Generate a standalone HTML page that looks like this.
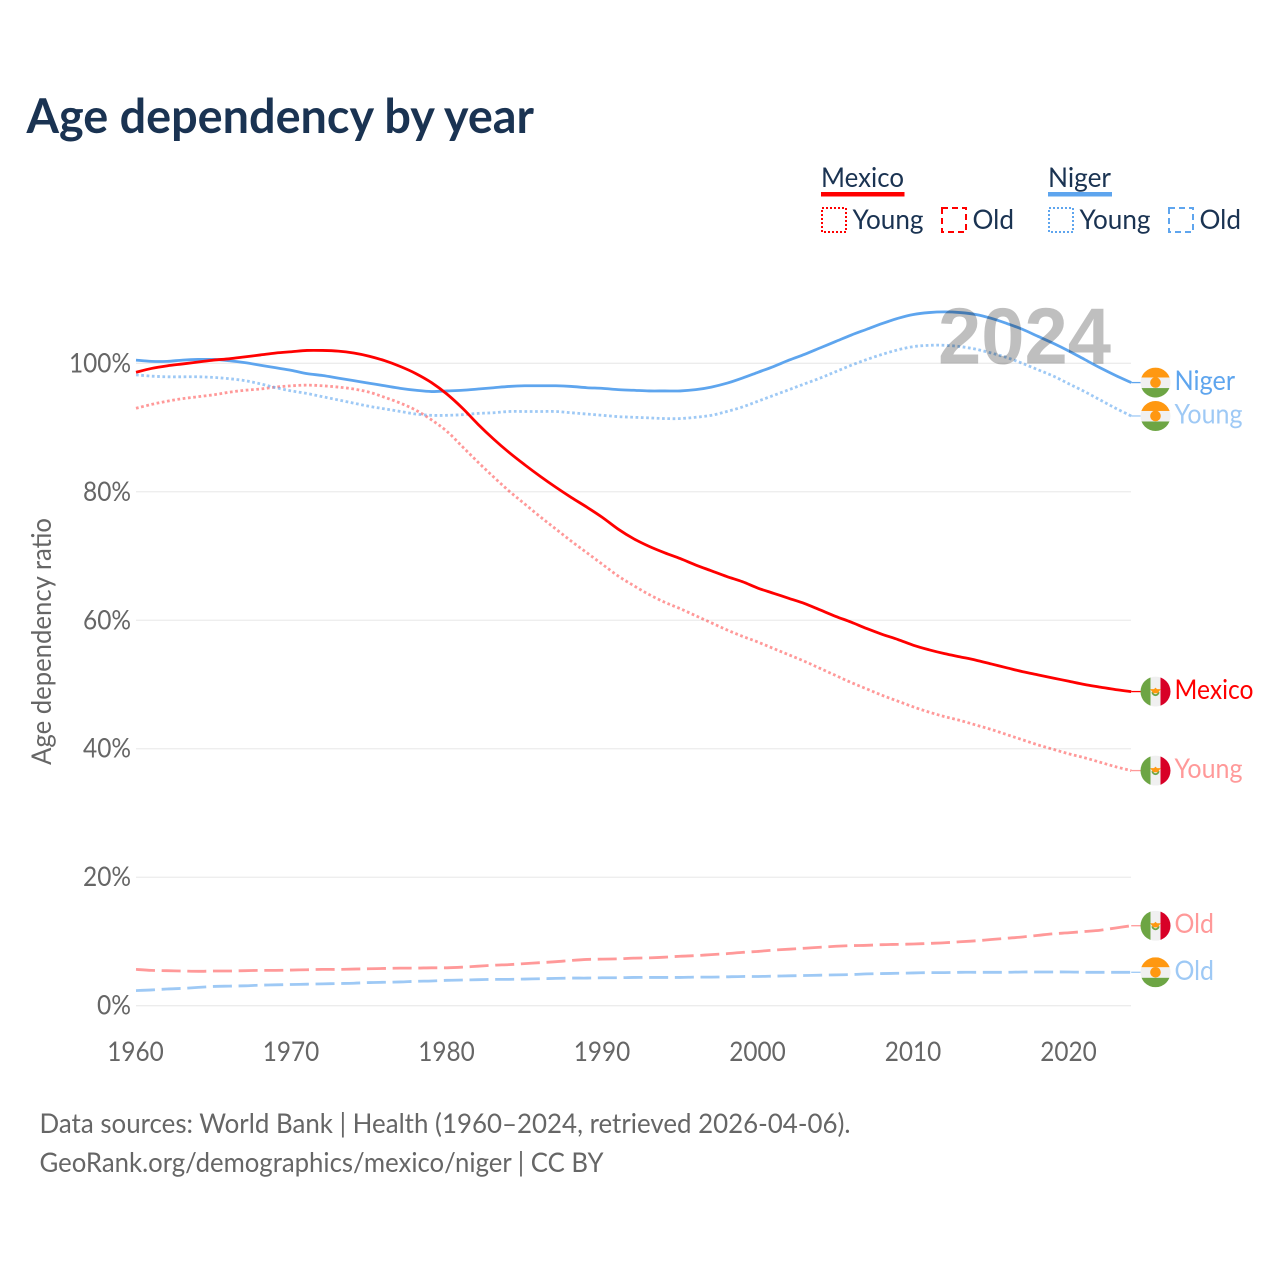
<!DOCTYPE html>
<html lang="en">
<head>
<meta charset="utf-8">
<title>Age dependency by year</title>
<style>
html,body{margin:0;padding:0;background:#fff}
svg{display:block}
text{font-family:"Lato","Carlito","Liberation Sans",sans-serif}
</style>
</head>
<body>
<svg id="chart" xmlns="http://www.w3.org/2000/svg" width="1280" height="1280" viewBox="0 0 1280 1280">
  <defs>
    <clipPath id="flag-clip"><circle cx="0" cy="0" r="15"></circle></clipPath>
  </defs>
  <rect x="0" y="0" width="1280" height="1280" fill="#fff"></rect>
  <text x="26.500" y="133" font-size="48" font-weight="700" fill="#1a3352" textLength="507.500" lengthAdjust="spacingAndGlyphs">Age dependency by year</text>

  <g font-size="27" fill="#1a3352">
    <text x="821" y="187" textLength="83" lengthAdjust="spacingAndGlyphs">Mexico</text>
    <rect x="821" y="192" width="83.500" height="4.500" fill="#ff0000"></rect>
    <rect x="822" y="208" width="24" height="24" fill="none" stroke="#ff0000" stroke-width="2" stroke-dasharray="2 2"></rect>
    <text x="852.500" y="229" textLength="71" lengthAdjust="spacingAndGlyphs">Young</text>
    <rect x="942" y="208" width="24" height="24" fill="none" stroke="#ff0000" stroke-width="2" stroke-dasharray="6 4"></rect>
    <text x="972.500" y="229" textLength="41.500" lengthAdjust="spacingAndGlyphs">Old</text>
    <text x="1048" y="187" textLength="63" lengthAdjust="spacingAndGlyphs">Niger</text>
    <rect x="1048" y="192" width="64" height="4.500" fill="#5ea5ee"></rect>
    <rect x="1049" y="208" width="24" height="24" fill="none" stroke="#5ea5ee" stroke-width="2" stroke-dasharray="2 2"></rect>
    <text x="1079.500" y="229" textLength="71" lengthAdjust="spacingAndGlyphs">Young</text>
    <rect x="1169" y="208" width="24" height="24" fill="none" stroke="#5ea5ee" stroke-width="2" stroke-dasharray="6 4"></rect>
    <text x="1199.500" y="229" textLength="41.500" lengthAdjust="spacingAndGlyphs">Old</text>
  </g>

  <g id="grid"></g>
  <g id="y-axis"></g>
  <g id="x-axis"></g>
  <text transform="translate(51,641.500) rotate(-90)" text-anchor="middle" font-size="27" fill="#666" textLength="247" lengthAdjust="spacingAndGlyphs">Age dependency ratio</text>
  <g id="series"></g>
  <text x="938" y="363.500" font-size="80" font-weight="700" fill="#000" fill-opacity="0.25" textLength="173" lengthAdjust="spacingAndGlyphs" style="font-family:'Liberation Sans',sans-serif">2024</text>
  <g id="end-labels"></g>

  <text x="39.500" y="1133" font-size="27" fill="#666" textLength="811" lengthAdjust="spacingAndGlyphs">Data sources: World Bank | Health (1960–2024, retrieved 2026-04-06).</text>
  <text x="39.500" y="1172" font-size="27" fill="#666" textLength="564" lengthAdjust="spacingAndGlyphs">GeoRank.org/demographics/mexico/niger | CC BY</text>
</svg>

<script>
const years = [1960,1961,1962,1963,1964,1965,1966,1967,1968,1969,1970,1971,1972,1973,1974,1975,1976,1977,1978,1979,1980,1981,1982,1983,1984,1985,1986,1987,1988,1989,1990,1991,1992,1993,1994,1995,1996,1997,1998,1999,2000,2001,2002,2003,2004,2005,2006,2007,2008,2009,2010,2011,2012,2013,2014,2015,2016,2017,2018,2019,2020,2021,2022,2023,2024];
const yTicks = [0,20,40,60,80,100];
const xTicks = [1960,1970,1980,1990,2000,2010,2020];

const mexicoTotal = [98.6,99.2,99.6,99.9,100.2,100.5,100.7,101.0,101.3,101.6,101.8,102.0,102.0,101.9,101.6,101.1,100.4,99.5,98.4,97.0,95.2,93.0,90.5,88.2,86.1,84.2,82.4,80.7,79.1,77.6,76.0,74.2,72.7,71.5,70.5,69.6,68.6,67.7,66.8,66.0,65.0,64.2,63.4,62.6,61.6,60.6,59.7,58.7,57.8,57.0,56.1,55.4,54.8,54.3,53.8,53.2,52.6,52.0,51.5,51.0,50.5,50.0,49.6,49.2,48.9];
const mexicoYoung = [93.0,93.6,94.1,94.5,94.8,95.1,95.5,95.8,96.0,96.3,96.5,96.6,96.5,96.3,96.0,95.5,94.7,93.8,92.7,91.2,89.4,87.0,84.6,82.3,80.1,78.1,76.1,74.2,72.3,70.5,68.7,66.9,65.4,64.0,62.8,61.8,60.7,59.6,58.5,57.5,56.6,55.6,54.6,53.6,52.5,51.4,50.3,49.3,48.3,47.4,46.5,45.7,45.0,44.4,43.7,43.0,42.2,41.4,40.6,39.9,39.2,38.6,37.9,37.2,36.6];
const mexicoOld = [5.65,5.5,5.45,5.4,5.35,5.4,5.4,5.45,5.5,5.5,5.55,5.6,5.65,5.65,5.7,5.75,5.8,5.85,5.85,5.9,5.9,6.0,6.15,6.3,6.4,6.55,6.7,6.85,7.05,7.2,7.25,7.3,7.4,7.45,7.55,7.7,7.8,7.95,8.1,8.3,8.45,8.65,8.8,8.95,9.1,9.25,9.35,9.4,9.5,9.55,9.6,9.7,9.8,9.95,10.1,10.3,10.5,10.7,10.95,11.2,11.35,11.55,11.75,12.1,12.45];
const nigerTotal = [100.5,100.3,100.3,100.5,100.6,100.6,100.4,100.1,99.7,99.3,98.9,98.4,98.1,97.7,97.3,96.9,96.5,96.1,95.8,95.6,95.7,95.8,96.0,96.2,96.4,96.5,96.5,96.5,96.4,96.2,96.1,95.9,95.8,95.7,95.7,95.7,95.9,96.3,96.9,97.7,98.6,99.5,100.5,101.4,102.4,103.4,104.4,105.3,106.2,107.0,107.6,107.9,108.0,107.9,107.6,107.0,106.2,105.3,104.2,103.1,101.9,100.6,99.3,98.1,97.0];
const nigerYoung = [98.2,98.0,97.9,97.9,97.9,97.8,97.6,97.3,96.8,96.2,95.7,95.3,94.8,94.3,93.8,93.3,92.9,92.5,92.1,91.9,91.9,92.0,92.2,92.3,92.5,92.5,92.5,92.5,92.3,92.1,91.9,91.7,91.6,91.5,91.4,91.4,91.6,91.9,92.5,93.2,94.1,95.0,95.9,96.8,97.7,98.7,99.7,100.6,101.4,102.1,102.6,102.8,102.8,102.6,102.2,101.6,100.9,100.0,99.0,98.0,96.8,95.6,94.3,93.0,91.8];
const nigerOld = [2.35,2.45,2.6,2.7,2.85,3.0,3.05,3.1,3.2,3.25,3.3,3.35,3.4,3.45,3.5,3.6,3.65,3.7,3.8,3.85,3.95,4.0,4.05,4.1,4.1,4.15,4.2,4.25,4.3,4.3,4.35,4.35,4.4,4.4,4.4,4.4,4.45,4.45,4.5,4.55,4.55,4.6,4.65,4.7,4.75,4.8,4.85,4.95,5.0,5.05,5.1,5.15,5.15,5.2,5.2,5.2,5.2,5.25,5.25,5.25,5.25,5.2,5.2,5.2,5.2];

const NS = 'http://www.w3.org/2000/svg';
const RED = '#ff0000';
const BLUE = '#5ea5ee';
const DOT = '2.7 2.6';
const DASH = '19 6.67';

function xScale(year){ return 136 + (year - 1960) * 15.55; }
function yScale(v){ return 1005.7 - 6.424 * v; }

function make(tag, attrs, parent){
  const el = document.createElementNS(NS, tag);
  for (const k in attrs) el.setAttribute(k, attrs[k]);
  if (parent) parent.appendChild(el);
  return el;
}

function pathFor(values){
  const p = values.map((v, i) => [xScale(years[i]), yScale(v)]);
  let d = 'M' + p[0][0].toFixed(2) + ' ' + p[0][1].toFixed(2);
  for (let i = 0; i < p.length - 1; i++){
    const a = p[Math.max(i - 1, 0)], b = p[i], c = p[i + 1], e = p[Math.min(i + 2, p.length - 1)];
    const c1x = b[0] + (c[0] - a[0]) / 6, c1y = b[1] + (c[1] - a[1]) / 6;
    const c2x = c[0] - (e[0] - b[0]) / 6, c2y = c[1] - (e[1] - b[1]) / 6;
    d += 'C' + c1x.toFixed(2) + ' ' + c1y.toFixed(2) + ' ' + c2x.toFixed(2) + ' ' + c2y.toFixed(2) + ' ' + c[0].toFixed(2) + ' ' + c[1].toFixed(2);
  }
  return d;
}

const grid = document.getElementById('grid');
const yAxis = document.getElementById('y-axis');
yTicks.forEach(t => {
  const line = make('line', {x1:136, x2:1131, y1:yScale(t), y2:yScale(t), stroke:'#ececec', 'stroke-width':1.3}, grid);
  
  
  const label = make('text', {x:131, y:yScale(t) + 9, 'text-anchor':'end', 'font-size':27, fill:'#666', textLength:14 * String(t).length + 20, lengthAdjust:'spacingAndGlyphs'}, yAxis);
  
  
  label.textContent = t + '%';
});

const xAxis = document.getElementById('x-axis');
xTicks.forEach(t => {
  const label = make('text', {x:xScale(t) - 0.5, y:1061, 'text-anchor':'middle', 'font-size':27, fill:'#666', textLength:56.5, lengthAdjust:'spacingAndGlyphs'}, xAxis);
  
  
  label.textContent = t;
});

const seriesGroup = document.getElementById('series');
function drawSeries(name, values, color, opacity, dash, width){
  const path = make('path', {d:pathFor(values), fill:'none', stroke:color, 'stroke-opacity':opacity, 'stroke-width':width, 'stroke-linejoin':'round'}, seriesGroup);
  if (dash) path.setAttribute('stroke-dasharray', dash);
  
  
}
drawSeries('line-mexico-old', mexicoOld, RED, 0.4, DASH, 2.8);
drawSeries('line-niger-old', nigerOld, BLUE, 0.6, DASH, 2.8);
drawSeries('line-mexico-young', mexicoYoung, RED, 0.4, DOT, 2.8);
drawSeries('line-niger-young', nigerYoung, BLUE, 0.6, DOT, 2.8);
drawSeries('line-niger-total', nigerTotal, BLUE, 1, null, 2.8);
drawSeries('line-mexico-total', mexicoTotal, RED, 1, null, 2.8);

function drawNigerFlag(g){
  make('rect', {x:-15, y:-15, width:30, height:10, fill:'#ff9811'}, g);
  make('rect', {x:-15, y:-5, width:30, height:10.5, fill:'#f0f0f0'}, g);
  make('rect', {x:-15, y:5.5, width:30, height:9.5, fill:'#6da544'}, g);
  make('circle', {cx:0, cy:0, r:5.300, fill:'#ff9811'}, g);
}
function drawMexicoFlag(g){
  make('rect', {x:-15, y:-15, width:10, height:30, fill:'#6da544'}, g);
  make('rect', {x:-5, y:-15, width:10, height:30, fill:'#f0f0f0'}, g);
  make('rect', {x:5, y:-15, width:10, height:30, fill:'#d80027'}, g);
  make('path', {d:'M-4 0.500A4 4 0 0 0 4 0.500L2.200 0.500A2.200 2.200 0 0 1 -2.200 0.500Z', fill:'#6da544'}, g);
  make('path', {d:'M-5.300 -2.500L-1.500 -2.500L0 -4L1.500 -2.500L5.300 -2.500L2.200 1.700L-2.200 1.700Z', fill:'#ff9811'}, g);
}

const labelWidths = {Niger:60.5, Young:68, Mexico:79, Old:39.5};
const endLabels = document.getElementById('end-labels');
function drawEnd(name, text, values, color, opacity, flagFn){
  const y = yScale(values[values.length - 1]);
  const x = xScale(years[years.length - 1]);
  const group = make('g', {}, endLabels);
  
  
  const lead = make('line', {x1:x, x2:x + 10, y1:y, y2:y, stroke:color, 'stroke-opacity':opacity, 'stroke-width':1.3}, group);
  
  
  const flag = make('g', {transform:'translate(1155.500 ' + y.toFixed(2) + ')'}, group);
  
  
  flagFn(make('g', {'clip-path':'url(#flag-clip)'}, flag));
  const label = make('text', {x:1174.5, y:y + 7.5, 'font-size':27, fill:color, 'fill-opacity':opacity, textLength:labelWidths[text], lengthAdjust:'spacingAndGlyphs'}, group);
  
  
  label.textContent = text;
}
drawEnd('niger-total', 'Niger', nigerTotal, BLUE, 1, drawNigerFlag);
drawEnd('niger-young', 'Young', nigerYoung, BLUE, 0.6, drawNigerFlag);
drawEnd('mexico-total', 'Mexico', mexicoTotal, RED, 1, drawMexicoFlag);
drawEnd('mexico-young', 'Young', mexicoYoung, RED, 0.4, drawMexicoFlag);
drawEnd('mexico-old', 'Old', mexicoOld, RED, 0.4, drawMexicoFlag);
drawEnd('niger-old', 'Old', nigerOld, BLUE, 0.6, drawNigerFlag);
</script>
</body>
</html>
